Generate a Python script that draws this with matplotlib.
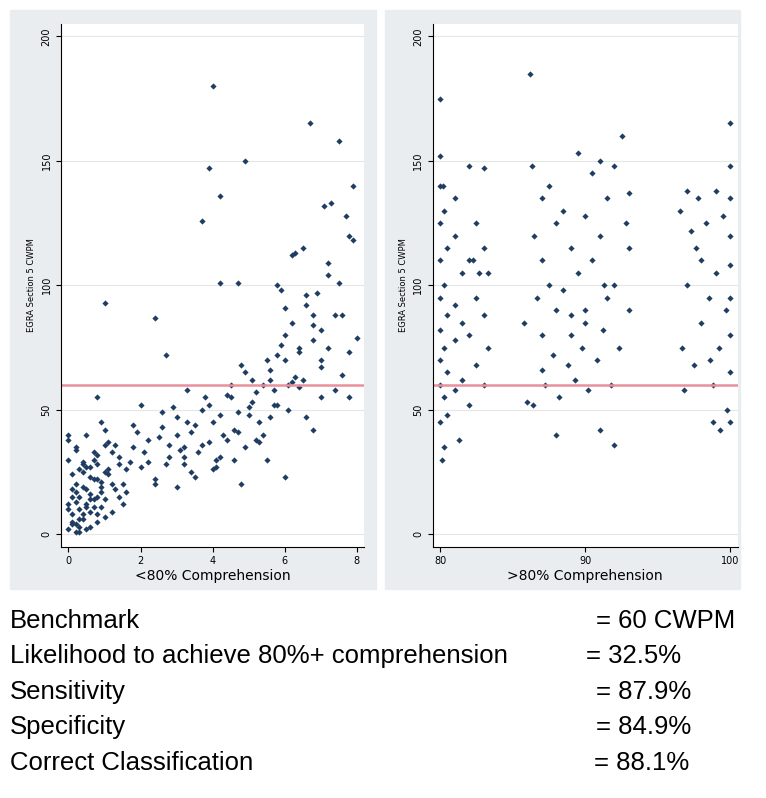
import matplotlib.pyplot as plt

# left panel: <80% comprehension (x = score, y = CWPM)
left_x = [0.0,0.1,0.1,0.2,0.2,0.3,0.3,0.4,0.4,0.5,0.5,0.6,0.6,0.7,0.7,0.8,0.8,0.9,0.9,1.0,
          0.0,0.1,0.2,0.2,0.3,0.4,0.5,0.5,0.6,0.7,0.8,0.9,1.0,1.1,1.2,1.3,1.4,1.5,0.0,0.1,
          0.2,0.3,0.4,0.5,0.6,0.7,0.8,0.9,1.0,1.1,0.0,0.1,0.2,0.3,0.4,0.6,0.8,1.0,1.2,1.4,
          0.0,0.2,0.4,0.6,0.8,1.0,1.2,0.1,0.3,0.5,0.7,0.9,1.1,1.3,1.5,1.7,1.9,2.1,1.6,1.8,
          2.0,2.2,2.4,2.6,2.8,3.0,1.4,1.6,1.8,2.0,2.2,2.4,2.6,2.8,3.0,3.2,3.4,2.5,2.7,2.9,
          3.1,3.3,3.5,3.7,3.9,4.1,3.0,3.2,3.4,3.6,3.8,4.0,4.2,4.4,4.6,3.3,3.5,3.7,3.9,4.1,
          4.3,4.5,4.7,4.9,5.1,4.0,4.2,4.4,4.6,4.8,5.0,5.2,5.4,5.6,5.8,4.5,4.7,4.9,5.1,5.3,
          5.5,5.7,5.9,6.1,6.3,5.2,5.4,5.6,5.8,6.0,6.2,6.4,6.6,6.8,7.0,5.6,5.8,6.0,6.2,6.4,
          6.6,6.8,7.0,7.2,7.4,6.2,6.4,6.6,6.8,7.0,7.2,7.4,7.6,7.8,8.0,6.0,6.5,7.0,7.5,7.8,
          7.9,7.7,7.3,6.9,6.1,5.7,5.3,1.0,2.4,4.0,3.9,4.2,3.7,4.9,6.7,7.5,7.9,4.2,4.7,2.7,
          0.8,0.0,3.2,5.0,6.3,7.1,7.6,6.8,5.9,6.5,7.2,7.8,5.5,6.0,4.8]
left_y = [2,8,15,4,20,10,1,25,6,12,18,3,9,22,14,5,28,11,17,7,
          30,24,13,35,6,19,27,2,16,33,8,21,14,26,9,18,31,12,38,4,
          1,15,28,40,23,11,32,19,25,37,10,5,17,3,29,14,22,36,20,28,
          12,34,8,27,15,42,33,18,26,11,30,45,24,36,20,29,41,33,17,44,
          27,38,22,49,31,40,15,26,35,52,29,20,43,36,47,31,25,39,28,51,
          34,45,23,50,37,30,19,28,41,33,55,26,48,38,30,58,44,36,52,27,
          40,60,49,35,62,45,31,56,42,68,51,38,60,47,72,55,41,65,53,45,
          70,58,76,50,63,57,40,66,52,80,61,73,47,88,55,62,100,70,85,59,
          92,78,67,104,58,112,75,96,84,70,109,88,64,120,79,91,115,82,101,73,
          118,128,133,97,60,52,37,93,87,180,147,136,126,150,165,158,140,101,101,72,
          55,40,35,48,113,132,88,42,98,62,75,55,30,23,20]

# right panel: >80% comprehension
right_x = [80,80,80,80,80,80,80,80,80,80,80.3,80.3,80.3,80.3,80.3,80.5,80.5,80.5,80.5,81,
           81,81,81,81,81.5,81.5,81.5,82,82,82,82,82.5,82.5,82.5,83,83,83,83,83.3,83.3,
           86.2,86.3,86.5,86.7,87,87,87,87.2,87.5,87.5,87.8,88,88,88.2,88.5,88.5,88.8,89,89,89.3,
           89.5,89.5,89.8,90,90,90.2,90.5,90.5,90.8,91,91,91.2,91.5,91.5,91.8,92,92,92.3,92.5,92.8,
           93,93,86,88,90,91,92,93,87,89,
           96.5,96.7,97,97,97.3,97.5,97.8,98,98,98.3,98.5,98.8,99,99,99.2,99.5,99.7,100,100,100,
           100,100,100,100,100,99.8,99.3,98.6,97.6,96.8,82.7,80.2,81.3,86.4,91.3,98.8,100,80.1,82.3,85.8]
right_y = [175,152,140,125,110,95,82,70,60,45,130,100,75,55,35,115,88,65,48,120,
           92,78,58,135,105,85,62,148,110,80,52,125,95,68,147,115,88,60,105,75,
           185,148,120,95,135,110,80,60,140,100,72,125,90,55,130,98,68,115,80,62,
           153,105,75,128,90,58,145,110,70,150,120,82,135,95,60,148,100,75,160,125,
           137,90,53,40,85,42,36,115,66,88,
           130,75,138,100,122,68,135,110,85,125,95,60,138,105,75,128,90,165,148,135,
           120,108,95,80,65,50,42,70,115,58,105,140,38,52,100,45,45,30,110,85]

fig = plt.figure(figsize=(7.66, 7.98), dpi=100)
fig.patch.set_facecolor('white')

navy = '#1f3d63'
for gx, gw in [(0.013, 0.478), (0.503, 0.463)]:
    fig.patches.append(plt.Rectangle((gx, 0.262), gw, 0.726, transform=fig.transFigure,
                                     color='#e9edf0', zorder=-5))

def panel(rect, xs, ys, xlim, xticks, xlabel):
    ax = fig.add_axes(rect)
    ax.set_facecolor('white')
    ax.scatter(xs, ys, s=10, color=navy, marker='D', linewidths=0)
    ax.axhline(60, color='#e8909c', lw=1.8)
    ax.set_xlim(*xlim)
    ax.set_ylim(-5, 205)
    ax.set_xticks(xticks)
    ax.set_yticks([0, 50, 100, 150, 200])
    ax.set_yticklabels(['0', '50', '100', '150', '200'], rotation=90, va='center')
    ax.grid(axis='y', color='#e6e6e6', lw=0.8)
    ax.set_axisbelow(True)
    for s in ['top', 'right']:
        ax.spines[s].set_visible(False)
    ax.tick_params(labelsize=7)
    ax.set_xlabel(xlabel, fontsize=10, labelpad=2)
    ax.set_ylabel('EGRA Section 5 CWPM', fontsize=6)
    return ax

panel([0.08, 0.315, 0.395, 0.655], left_x, left_y, (-0.2, 8.2), [0, 2, 4, 6, 8],
      '<80% Comprehension')
panel([0.565, 0.315, 0.398, 0.655], right_x, right_y, (79.5, 100.5), [80, 90, 100],
      '>80% Comprehension')

rows = [('Benchmark', '= 60 CWPM', 0.778),
        ('Likelihood to achieve 80%+ comprehension', '= 32.5%', 0.765),
        ('Sensitivity', '= 87.9%', 0.778),
        ('Specificity', '= 84.9%', 0.778),
        ('Correct Classification', '= 88.1%', 0.775)]
for i, (lab, val, vx) in enumerate(rows):
    y = 0.222 - i * 0.0445
    fig.text(0.013, y, lab, fontsize=18.5, family='Liberation Sans', va='center')
    fig.text(vx, y, val, fontsize=18.5, family='Liberation Sans', va='center')

fig.savefig('out.png', dpi=100)
